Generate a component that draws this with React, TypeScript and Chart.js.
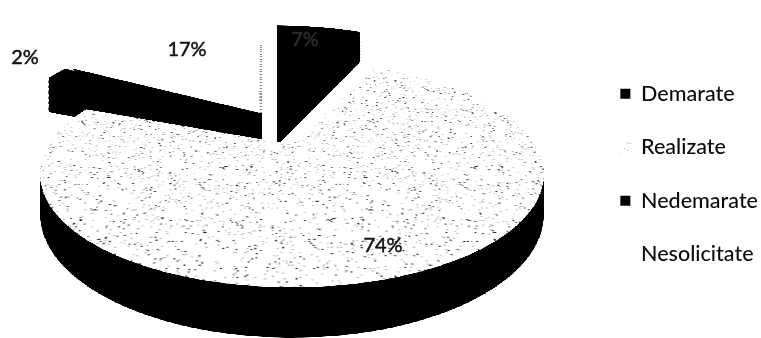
import React, { useEffect, useRef } from "react";
import { Chart, registerables } from "chart.js";

Chart.register(...registerables);

const categories = ["Demarate", "Realizate", "Nedemarate", "Nesolicitate"];
const percents = [7, 74, 2, 17];

// Projection of the flat pie into the tilted view of the picture
const VIEW = { cx: 292, cy: 144, a: 243, b: 105, k: 0.265, depth: 37 };
// Where each exploded slice is moved to, in the order of categories
const sliceShift = [
  [-15, -36],
  [0, 0],
  [-38, -31],
  [-30, -31],
];
const paintOrder = [0, 2, 3, 1];
const labelSpots = [
  [305, 40],
  [383, 246],
  [25, 58],
  [187, 50],
];
const labelColors = ["#2c2c2c", "#111", "#111", "#111"];
const FLAT = 1024;

function speckle(): CanvasPattern | string {
  const size = 160;
  const tile = document.createElement("canvas");
  tile.width = tile.height = size;
  const g = tile.getContext("2d")!;
  g.fillStyle = "#fff";
  g.fillRect(0, 0, size, size);
  let seed = 12345;
  for (let y = 0; y < size; y++) {
    for (let x = 0; x < size; x++) {
      seed = (seed * 1103515245 + 12345) & 0x7fffffff;
      const n = (seed >> 8) % 1000;
      if (n < 50) {
        g.fillStyle = n < 20 ? "#222" : "#b0b0b0";
        g.fillRect(x, y, 1, 1);
      }
    }
  }
  return g.createPattern(tile, "repeat") || "#fff";
}

function blit(g: CanvasRenderingContext2D, src: HTMLCanvasElement, dx: number, dy: number, h: number) {
  const { cx, cy, a, b, k, depth } = VIEW;
  const rows = g.canvas.height;
  for (let Y = 0; Y < rows; Y++) {
    const t = Y - (cy + dy);
    const v = (t - depth * h) / (b + t * k);
    if (v < -1 || v >= 1) continue;
    const sy = Math.floor(((v + 1) / 2) * FLAT);
    const W = (2 * a) / (1 - k * v);
    g.drawImage(src, 0, sy, FLAT, 1, cx + dx - W / 2, Y, W, 1);
  }
}

const tiltedPie = {
  id: "tiltedPie",
  beforeDatasetsDraw(chart: any) {
    const g: CanvasRenderingContext2D = chart.ctx;
    const arcs = chart.getDatasetMeta(0).data;
    g.save();
    g.imageSmoothingEnabled = false;
    paintOrder.forEach((i) => {
      const arc = arcs[i];
      const R = arc.outerRadius;
      const top = document.createElement("canvas");
      top.width = top.height = FLAT;
      const c = top.getContext("2d")!;
      c.save();
      c.scale(FLAT / (2 * R), FLAT / (2 * R));
      c.translate(R - arc.x, R - arc.y);
      arc.draw(c);
      c.restore();
      const wall = document.createElement("canvas");
      wall.width = wall.height = FLAT;
      const w = wall.getContext("2d")!;
      w.drawImage(top, 0, 0);
      w.globalCompositeOperation = "source-in";
      w.fillStyle = "#000";
      w.fillRect(0, 0, FLAT, FLAT);
      if (i === 3) {
        // the faint dotted edge of the white slice
        c.strokeStyle = "#8a8a8a";
        c.lineWidth = 5;
        c.setLineDash([7, 9]);
        c.beginPath();
        c.moveTo(FLAT / 2 - 3, FLAT / 2);
        c.lineTo(FLAT / 2 - 3, FLAT * 0.1);
        c.stroke();
      }
      const [dx, dy] = sliceShift[i];
      for (let step = 40; step > 0; step--) blit(g, wall, dx, dy, step / 40);
      blit(g, top, dx, dy, 0);
    });
    g.restore();
    g.save();
    g.font = "20px Lato";
    g.textAlign = "center";
    g.textBaseline = "middle";
    g.lineWidth = 0.5;
    percents.forEach((p, i) => {
      g.fillStyle = labelColors[i];
      g.strokeStyle = labelColors[i];
      g.fillText(p + "%", labelSpots[i][0], labelSpots[i][1]);
      g.strokeText(p + "%", labelSpots[i][0], labelSpots[i][1]);
    });
    g.restore();
    return false;
  },
};

export default function App() {
  const ref = useRef<HTMLCanvasElement>(null);
  useEffect(() => {
    document.body.style.margin = "0";
    document.body.style.background = "#fff";
    const chart = new Chart(ref.current!, {
      type: "pie",
      data: {
        labels: categories,
        datasets: [
          {
            data: percents,
            backgroundColor: ["#000000", speckle(), "#000000", "#ffffff"],
            borderWidth: 0,
          },
        ],
      },
      options: {
        responsive: false,
        animation: false,
        rotation: 0,
        layout: { padding: { top: 10, right: -7 } },
        plugins: {
          tooltip: { enabled: false },
          legend: {
            position: "right",
            labels: {
              boxWidth: 10,
              boxHeight: 10,
              padding: 32,
              color: "#0c0c0c",
              font: { family: "Lato", size: 21.5, weight: "500" },
            },
          },
        },
      },
      plugins: [tiltedPie],
    } as any);
    return () => chart.destroy();
  }, []);
  return (
    <div style={{ width: 761, height: 338 }}>
      <canvas ref={ref} width={761} height={338} style={{ display: "block" }} />
    </div>
  );
}
